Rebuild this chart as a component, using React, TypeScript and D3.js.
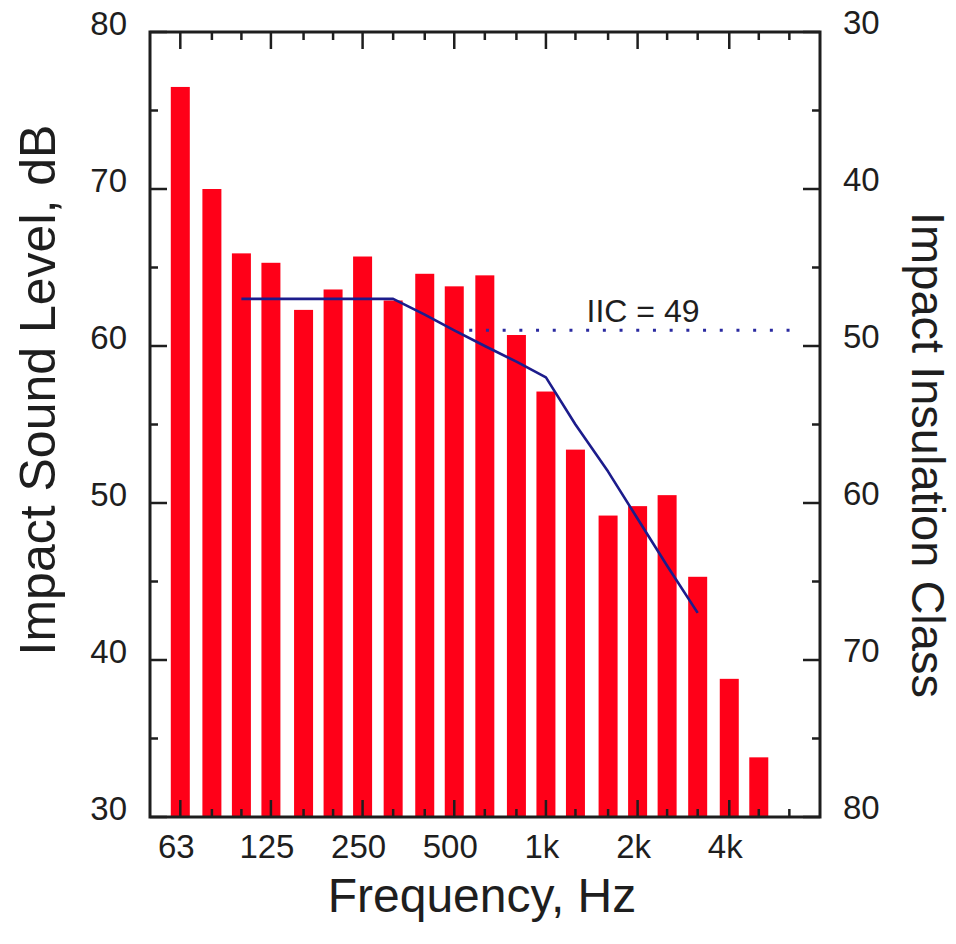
import React from "react";
import * as d3 from "d3";

// One-third-octave band centre frequencies (Hz) and measured impact sound levels (dB)
const bandFreqs = [63, 80, 100, 125, 160, 200, 250, 315, 400, 500, 630, 800, 1000, 1250, 1600, 2000, 2500, 3150, 4000, 5000];
const bandLevels = [76.5, 70.0, 65.9, 65.3, 62.3, 63.6, 65.7, 62.9, 64.6, 63.8, 64.5, 60.7, 57.1, 53.4, 49.2, 49.8, 50.5, 45.3, 38.8, 33.8];

// Fitted IIC reference contour
const contourFreqs = [100, 125, 160, 200, 250, 315, 400, 500, 630, 800, 1000, 1250, 1600, 2000, 2500, 3150];
const contourLevels = [63, 63, 63, 63, 63, 63, 62, 61, 60, 59, 58, 55, 52, 49, 46, 43];

// Single-number rating and the span of its marker line (Hz)
const iicRating = 49;
const iicLineSpan = [560, 6900];

// Axis ticks
const xTickFreqs = [63, 80, 100, 125, 160, 200, 250, 315, 400, 500, 630, 800, 1000, 1250, 1600, 2000, 2500, 3150, 4000, 5000, 6300];
const xLabelFreqs = [63, 125, 250, 500, 1000, 2000, 4000];
const xLabels = ["63", "125", "250", "500", "1k", "2k", "4k"];
const yMajorTicks = [30, 40, 50, 60, 70, 80];
const yMinorTicks = [35, 45, 55, 65, 75];
const iicMajorTicks = [30, 40, 50, 60, 70, 80];
const iicMinorTicks = [35, 45, 55, 65, 75];

const W = 956;
const H = 944;
const left = 150, right = 820, top = 32, bottom = 817;
const FONT = "'Liberation Sans', Arial, Helvetica, sans-serif";
const INK = "#1e1e1e";

export default function App() {
  const x = d3.scaleLog().domain([50.1, 7943]).range([left, right]);
  const y = d3.scaleLinear().domain([30, 80]).range([bottom, top]);
  const yIIC = d3.scaleLinear().domain([30, 80]).range([top, bottom]);
  const barW = 19;
  const majorLen = 17, minorLen = 8;

  const contourPath = d3
    .line<number>()
    .x((_, i) => x(contourFreqs[i]))
    .y((v) => y(v))(contourLevels) as string;

  const isMajorX = (f: number) => xLabelFreqs.includes(f);

  return (
    <svg
      width={W}
      height={H}
      viewBox={`0 0 ${W} ${H}`}
      style={{ position: "absolute", left: 0, top: 0, background: "#fff" }}
    >
      {/* bars */}
      {bandFreqs.map((f, i) => (
        <rect
          key={f}
          x={x(f) - barW / 2}
          y={y(bandLevels[i])}
          width={barW}
          height={y(30) - y(bandLevels[i])}
          fill="#ff0018"
        />
      ))}

      {/* IIC rating line */}
      <line
        x1={x(iicLineSpan[0])}
        x2={x(iicLineSpan[1])}
        y1={yIIC(iicRating)}
        y2={yIIC(iicRating)}
        stroke="#2a2aa0"
        strokeWidth={3}
        strokeDasharray="3 13.7"
      />
      <text
        x={643}
        y={yIIC(iicRating) - 8}
        textAnchor="middle"
        fontFamily={FONT}
        fontSize={32}
        fill={INK}
      >
        {`IIC = ${iicRating}`}
      </text>

      {/* reference contour */}
      <path d={contourPath} fill="none" stroke="#1c1c8c" strokeWidth={2.6} strokeLinejoin="round" />

      {/* x ticks (bottom and top, inward) */}
      {xTickFreqs.map((f) => {
        const len = isMajorX(f) ? majorLen : minorLen;
        return (
          <g key={f} stroke={INK} strokeWidth={2.5}>
            <line x1={x(f)} x2={x(f)} y1={bottom} y2={bottom - len} />
            <line x1={x(f)} x2={x(f)} y1={top} y2={top + len} />
          </g>
        );
      })}

      {/* left y ticks */}
      {yMajorTicks.map((v) => (
        <line key={"lM" + v} x1={left} x2={left + majorLen} y1={y(v)} y2={y(v)} stroke={INK} strokeWidth={2.5} />
      ))}
      {yMinorTicks.map((v) => (
        <line key={"lm" + v} x1={left} x2={left + minorLen} y1={y(v)} y2={y(v)} stroke={INK} strokeWidth={2.5} />
      ))}
      {/* right IIC ticks */}
      {iicMajorTicks.map((v) => (
        <line key={"rM" + v} x1={right} x2={right - majorLen} y1={yIIC(v)} y2={yIIC(v)} stroke={INK} strokeWidth={2.5} />
      ))}
      {iicMinorTicks.map((v) => (
        <line key={"rm" + v} x1={right} x2={right - minorLen} y1={yIIC(v)} y2={yIIC(v)} stroke={INK} strokeWidth={2.5} />
      ))}

      {/* frame */}
      <rect x={left} y={top} width={right - left} height={bottom - top} fill="none" stroke={INK} strokeWidth={3} />

      {/* tick labels */}
      {yMajorTicks.map((v) => (
        <text key={"lt" + v} x={127} y={y(v) + 3} textAnchor="end" fontFamily={FONT} fontSize={33} fill={INK}>
          {v}
        </text>
      ))}
      {iicMajorTicks.map((v) => (
        <text key={"rt" + v} x={843} y={yIIC(v) + 2} textAnchor="start" fontFamily={FONT} fontSize={33} fill={INK}>
          {v}
        </text>
      ))}
      {xLabelFreqs.map((f, i) => (
        <text key={"xt" + f} x={x(f) - 4} y={858} textAnchor="middle" fontFamily={FONT} fontSize={33} fill={INK}>
          {xLabels[i]}
        </text>
      ))}

      {/* axis titles */}
      <text x={482} y={912} textAnchor="middle" fontFamily={FONT} fontSize={48} fill={INK}>
        Frequency, Hz
      </text>
      <text
        transform={`translate(55, 390) rotate(-90)`}
        textAnchor="middle"
        fontFamily={FONT}
        fontSize={50}
        fill={INK}
      >
        Impact Sound Level, dB
      </text>
      <text
        transform={`translate(912, 455) rotate(90)`}
        textAnchor="middle"
        fontFamily={FONT}
        fontSize={47}
        fill={INK}
      >
        Impact Insulation Class
      </text>
    </svg>
  );
}
